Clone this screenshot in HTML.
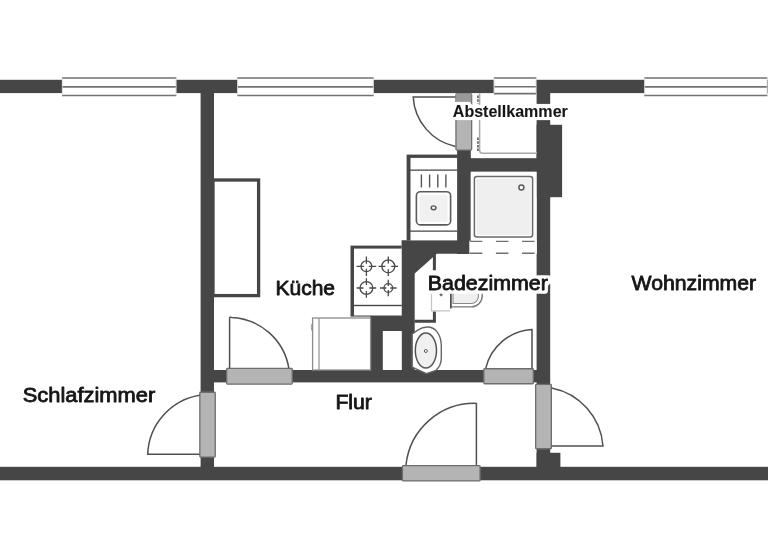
<!DOCTYPE html>
<html lang="de">
<head>
<meta charset="utf-8">
<title>Grundriss</title>
<style>
html,body{margin:0;padding:0;background:#fff;}
body{width:768px;height:560px;overflow:hidden;}
svg{display:block;will-change:transform;}
text{font-family:"Liberation Sans",sans-serif;fill:#151515;stroke:#151515;stroke-width:0.8px;stroke-linejoin:round;}
</style>
</head>
<body>
<svg width="768" height="560" viewBox="0 0 768 560">
<defs>
<filter id="halo1" filterUnits="userSpaceOnUse" x="400" y="60" width="200" height="260" color-interpolation-filters="sRGB">
<feMorphology in="SourceAlpha" operator="dilate" radius="3 3" result="d"/>
<feGaussianBlur in="d" stdDeviation="0.9" result="b"/>
<feComponentTransfer in="b" result="t"><feFuncA type="linear" slope="4" intercept="-1.2"/></feComponentTransfer>
<feFlood flood-color="#fff" result="w"/>
<feComposite in="w" in2="t" operator="in" result="h"/>
<feMerge><feMergeNode in="h"/><feMergeNode in="SourceGraphic"/></feMerge>
</filter>
<filter id="halo2" filterUnits="userSpaceOnUse" x="400" y="60" width="200" height="260" color-interpolation-filters="sRGB">
<feMorphology in="SourceAlpha" operator="dilate" radius="3 3" result="d"/>
<feGaussianBlur in="d" stdDeviation="0.9" result="b"/>
<feComponentTransfer in="b" result="t"><feFuncA type="linear" slope="4" intercept="-1.2"/></feComponentTransfer>
<feFlood flood-color="#fff" result="w"/>
<feComposite in="w" in2="t" operator="in" result="h"/>
<feMerge><feMergeNode in="h"/><feMergeNode in="SourceGraphic"/></feMerge>
</filter>
</defs>
<rect width="768" height="560" fill="#fff"/>
<!-- walls -->
<g fill="#464646">
<rect x="-2" y="79.8" width="772" height="13.3"/>
<rect x="-2" y="466.8" width="772" height="13.5"/>
<rect x="200.6" y="80" width="13.4" height="400"/>
<rect x="201" y="370" width="348" height="12.4"/>
<rect x="536.6" y="80" width="13.6" height="400"/>
<rect x="536.6" y="124.8" width="25.5" height="72.4"/>
<rect x="536.6" y="452.8" width="23.8" height="17.2"/>
<rect x="457.1" y="158.2" width="80.4" height="13.6"/>
<rect x="457.1" y="149" width="13.7" height="105"/>
<polygon points="401.6,240.3 471,240.3 471,253.8 436.8,253.8 414.7,273.6 414.7,371 401.6,371"/>
<rect x="370.4" y="316" width="43.6" height="15"/>
<rect x="370.4" y="316" width="12.5" height="60"/>
</g>
<!-- windows -->
<rect x="62" y="78" width="114.3" height="17.5" fill="#fff"/>
<path d="M62 78H176.3 M62 86.9H176.3 M62 95.5H176.3" fill="none" stroke="#727272" stroke-width="1.6"/>
<path d="M62.3 78V95.5 M176 78V95.5" fill="none" stroke="#cfcfcf" stroke-width="0.8"/>
<rect x="237.2" y="78" width="136.5" height="17.5" fill="#fff"/>
<path d="M237.2 78H373.7 M237.2 86.9H373.7 M237.2 95.5H373.7" fill="none" stroke="#727272" stroke-width="1.6"/>
<path d="M237.5 78V95.5 M373.4 78V95.5" fill="none" stroke="#cfcfcf" stroke-width="0.8"/>
<rect x="493.8" y="78" width="42.5" height="15.6" fill="#fff"/>
<path d="M493.8 78H536.3 M493.8 86.8H536.3 M493.8 93.6H536.3" fill="none" stroke="#727272" stroke-width="1.6"/>
<path d="M494.1 78V93.6 M536 78V93.6" fill="none" stroke="#cfcfcf" stroke-width="0.8"/>
<rect x="644.3" y="78" width="123.1" height="17.5" fill="#fff"/>
<path d="M644.3 78H767.4 M644.3 86.9H767.4 M644.3 95.5H767.4" fill="none" stroke="#727272" stroke-width="1.6"/>
<path d="M644.6 78V95.5 M767.1 78V95.5" fill="none" stroke="#cfcfcf" stroke-width="0.8"/>
<!-- doors -->
<g fill="#b4b4b4" stroke="#6e6e6e" stroke-width="1.3">
<rect x="226.65" y="368.45" width="65.6" height="15.7" rx="0.8"/>
<rect x="199.85" y="392.25" width="15.4" height="64.8" rx="0.8"/>
<rect x="402.45" y="465.55" width="77.6" height="15.4" rx="0.8"/>
<rect x="483.85" y="368.75" width="49.5" height="15" rx="0.8"/>
<rect x="535.65" y="384.45" width="15.7" height="64.3" rx="0.8"/>
<rect x="455.95" y="93.85" width="15.7" height="56.2" rx="0.8"/>
</g>
<rect x="456.3" y="94" width="15" height="8.5" fill="#9a9a9a"/>
<g fill="none" stroke="#505050" stroke-width="1.5">
<path d="M229.6 368.5V318.4Q229.6 316.6 231.5 317.4A60.9 60.9 0 0 1 288.8 368"/>
<path d="M199.6 454.3H147.7A62.2 62.2 0 0 1 199.6 395.2"/>
<path d="M476.4 465V403.4A68.9 68.9 0 0 0 406 465"/>
<path d="M532 368.5V329.5A50.4 50.4 0 0 0 485.8 368.1"/>
<path d="M551.5 446H603A64 64 0 0 0 551.5 387.9"/>
<path d="M455.4 97.1H413.2A53.5 53.5 0 0 0 455.4 146.4"/>
</g>
<!-- kitchen cabinet -->
<rect x="213" y="180" width="45.6" height="115.6" fill="#fff" stroke="#464646" stroke-width="3.3"/>
<!-- shelf -->
<path d="M479.6 93.2V150.2A3 3 0 0 0 482.6 153.2H537" fill="#fff" stroke="#a8a8a8" stroke-width="1.5"/>
<path d="M477.9 95.5V103.5M477.9 137.5V151" fill="none" stroke="#5a5a5a" stroke-width="1.6" stroke-dasharray="2.6 1.1"/>
<!-- kitchen sink -->
<rect x="406.6" y="154.6" width="51" height="85.8" fill="#464646"/>
<rect x="410.5" y="157.9" width="46.6" height="82.4" fill="#fff"/>
<path d="M408 170.1H457.2M408 231.1H457.2" fill="none" stroke="#464646" stroke-width="1.3"/>
<path d="M421.4 174.4V187.6M429.6 174.4V187.6M437.8 174.4V187.6M445.9 174.4V187.6" fill="none" stroke="#555" stroke-width="1.4"/>
<rect x="416.4" y="191.7" width="34.2" height="33.2" rx="4" fill="#fff" stroke="#5a5a5a" stroke-width="1.6"/>
<rect x="419.4" y="194.7" width="28.2" height="27.2" rx="2" fill="#f1f1f1"/>
<ellipse cx="433.6" cy="207.8" rx="2.4" ry="1.9" fill="#f1f1f1" stroke="#555" stroke-width="1.4"/>
<!-- shower -->
<rect x="470.8" y="171.8" width="65.8" height="82.2" fill="#fff"/>
<rect x="469.3" y="240.7" width="67.3" height="13.2" fill="#fff"/>
<rect x="474.4" y="176.6" width="58.2" height="60.4" rx="2.5" fill="#fff" stroke="#6a6a6a" stroke-width="1.5"/>
<rect x="476.4" y="178.6" width="54.2" height="56.4" rx="1.5" fill="#efefef"/>
<circle cx="521.4" cy="187.6" r="2.5" fill="#fff" stroke="#5a5a5a" stroke-width="1.5"/>
<path d="M469.8 241.4H536.5M469.8 253.2H536.5" fill="none" stroke="#707070" stroke-width="1.4" stroke-dasharray="12.5 13.6"/>
<!-- stove -->
<rect x="350.5" y="245.6" width="51.2" height="71" fill="#464646"/>
<rect x="354" y="248.6" width="47.7" height="56.2" fill="#fff"/>
<rect x="354" y="306.2" width="47.7" height="9.3" fill="#fff"/>
<g fill="none" stroke="#4a4a4a" stroke-width="1.3">
<circle cx="366.4" cy="266.3" r="5.4"/>
<path d="M356.6 266.3H363.97M368.83 266.3H376.2M366.4 256.5V263.87M366.4 268.73V276.1"/>
<circle cx="388.3" cy="266.3" r="6.5"/>
<path d="M378.5 266.3H385.38M391.23 266.3H398.1M388.3 256.5V263.38M388.3 269.23V276.1"/>
<circle cx="366.4" cy="288" r="6.4"/>
<path d="M356.6 288H363.52M369.28 288H376.2M366.4 278.2V285.12M366.4 290.88V297.8"/>
<circle cx="388.3" cy="288" r="4.3"/>
<path d="M380 288H386.37M390.24 288H396.6M388.3 279.7V286.06M388.3 289.94V296.3"/>
</g>
<!-- fridge -->
<rect x="312.6" y="318" width="58" height="52" fill="#fff" stroke="#8c8c8c" stroke-width="1.3"/>
<line x1="319" y1="318" x2="319" y2="370" stroke="#a0a0a0" stroke-width="1.4"/>
<path d="M312 323.800Q310.500 327.300 312 330.800" fill="none" stroke="#999" stroke-width="1"/>
<!-- niche -->
<rect x="382.9" y="331" width="18.7" height="39" fill="#fff"/>
<!-- bath cabinet outline -->
<path d="M434.4 253.5V321.2H414.5" fill="none" stroke="#464646" stroke-width="3"/>
<!-- bath sink -->
<rect x="430.9" y="270.3" width="19.7" height="41.1" fill="#fff"/>
<path d="M431.5 276V310.8H450.2" fill="none" stroke="#c4c4c4" stroke-width="1.2"/>
<path d="M450.8 286H482.2V296A11 11 0 0 1 471.2 306.9H450.8Z" fill="#fff" stroke="#7a7a7a" stroke-width="1.4"/>
<path d="M453 288H478.4V296.5A7 7 0 0 1 471.4 303.5H453Z" fill="#f0f0f0" stroke="#8a8a8a" stroke-width="1.1"/>
<path d="M450.8 286V308.5" fill="none" stroke="#4a4a4a" stroke-width="1.5"/>
<circle cx="441.1" cy="294.8" r="1.1" fill="#888" stroke="#555" stroke-width="0.8"/>
<!-- toilet -->
<path d="M412.2 334L417.8 330.2Q422.5 327 427.5 327Q433.5 327 437.1 331.8Q441 337 441.3 345V358Q441.3 365.5 436 370.3L426.4 373.6L412.2 367.1Z" fill="#fff" stroke="#666" stroke-width="1.4" stroke-linejoin="round"/>
<ellipse cx="425.9" cy="350.5" rx="10.6" ry="17.5" fill="#f0f0f0" stroke="#555" stroke-width="1.5"/>
<circle cx="425.8" cy="351" r="1.5" fill="#fff" stroke="#555" stroke-width="1"/>
<!-- labels -->
<rect x="536" y="103.9" width="15" height="4.1" fill="#fff"/>
<text x="452.8" y="117.4" font-size="16" textLength="115" lengthAdjust="spacingAndGlyphs" font-weight="bold" style="stroke-width:0.1px" filter="url(#halo1)">Abstellkammer</text>
<text x="275.5" y="294.7" font-size="20" textLength="59.5" lengthAdjust="spacingAndGlyphs">Küche</text>
<text x="427.8" y="289.6" font-size="20" textLength="120" lengthAdjust="spacingAndGlyphs" filter="url(#halo2)">Badezimmer</text>
<text x="631.6" y="289.6" font-size="20" textLength="124.5" lengthAdjust="spacingAndGlyphs">Wohnzimmer</text>
<text x="22.7" y="402.2" font-size="20" textLength="132.5" lengthAdjust="spacingAndGlyphs">Schlafzimmer</text>
<text x="335.4" y="408.8" font-size="20" textLength="36.5" lengthAdjust="spacingAndGlyphs">Flur</text>
</svg>
</body>
</html>
